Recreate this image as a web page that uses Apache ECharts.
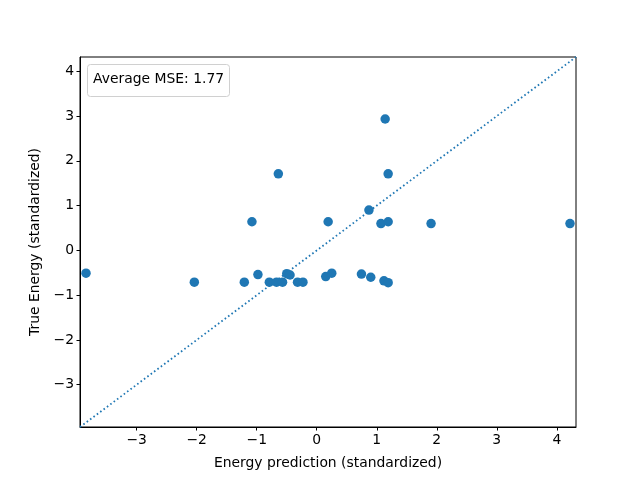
<!DOCTYPE html>
<html>
<head>
<meta charset="utf-8">
<script src="https://cdn.jsdelivr.net/npm/echarts@6/dist/echarts.min.js"></script>
<style>html,body{margin:0;padding:0;background:#fff}#c{width:640px;height:480px}</style>
</head>
<body>
<div id="c"></div>
<script>
var predX = [-0.64, -1.08, 1.14, 1.19, 0.87, 0.19, 1.07, 1.19, 1.905, 4.22,
             -3.845, -2.04, -1.207, -0.98, -0.79, -0.67, -0.57, -0.50, -0.445, -0.32, -0.23,
             0.15, 0.25, 0.745, 0.90, 1.12, 1.19];
var trueY = [1.71, 0.64, 2.935, 1.71, 0.90, 0.64, 0.60, 0.64, 0.60, 0.60,
             -0.51, -0.71, -0.71, -0.54, -0.71, -0.71, -0.71, -0.52, -0.55, -0.71, -0.71,
             -0.585, -0.51, -0.53, -0.60, -0.68, -0.72];
var axisLimits = [-3.945, 4.32];
var tickValues = [-3, -2, -1, 0, 1, 2, 3, 4];
var legendText = 'Average MSE: 1.77';
var xName = 'Energy prediction (standardized)';
var yName = 'True Energy (standardized)';

var points = predX.map(function (x, i) { return [x, trueY[i]]; });
var diag = axisLimits.map(function (v) { return [v, v]; });
var font = 'DejaVu Sans';
function fmt(v) { return String(v).replace('-', '\u2212'); }
function axis(name, gap, rot) {
  return {
    type: 'value', min: axisLimits[0], max: axisLimits[1],
    name: name, nameLocation: 'middle', nameGap: gap, nameRotate: rot,
    nameTextStyle: { fontFamily: font, fontSize: 13.9, color: '#000' },
    axisLine: { show: true, onZero: false, lineStyle: { color: '#000', width: 1 } },
    axisTick: { show: true, length: 3.5, inside: false, customValues: tickValues, lineStyle: { color: '#000' } },
    axisLabel: { customValues: tickValues, formatter: fmt, fontFamily: font, fontSize: 13.9, color: '#000', margin: 6 },
    splitLine: { show: false }
  };
}
var chart = echarts.init(document.getElementById('c'), null, { renderer: 'canvas' });
chart.setOption({
  animation: false,
  backgroundColor: '#fff',
  grid: { left: 80, right: 64, top: 57, bottom: 53, show: true, borderColor: '#000', borderWidth: 1, backgroundColor: 'transparent' },
  xAxis: axis(xName, 29, 0),
  yAxis: axis(yName, 36, 90),
  series: [
    { type: 'line', data: diag, showSymbol: false, symbol: 'none',
      lineStyle: { color: '#1f77b4', width: 1.8, type: [1.6, 2.6] }, z: 2 },
    { type: 'scatter', data: points, symbolSize: 9.5, itemStyle: { color: '#1f77b4', opacity: 1 }, z: 3 }
  ],
  graphic: [
    { type: 'rect', left: 87, top: 64, shape: { width: 142, height: 32, r: 3 },
      style: { fill: 'rgba(255,255,255,0.8)', stroke: '#d0d0d0', lineWidth: 1 }, z: 10 },
    { type: 'text', left: 93, top: 72, style: { text: legendText, font: '13.9px "DejaVu Sans"', fill: '#000' }, z: 11 }
  ]
});
</script>
</body>
</html>
